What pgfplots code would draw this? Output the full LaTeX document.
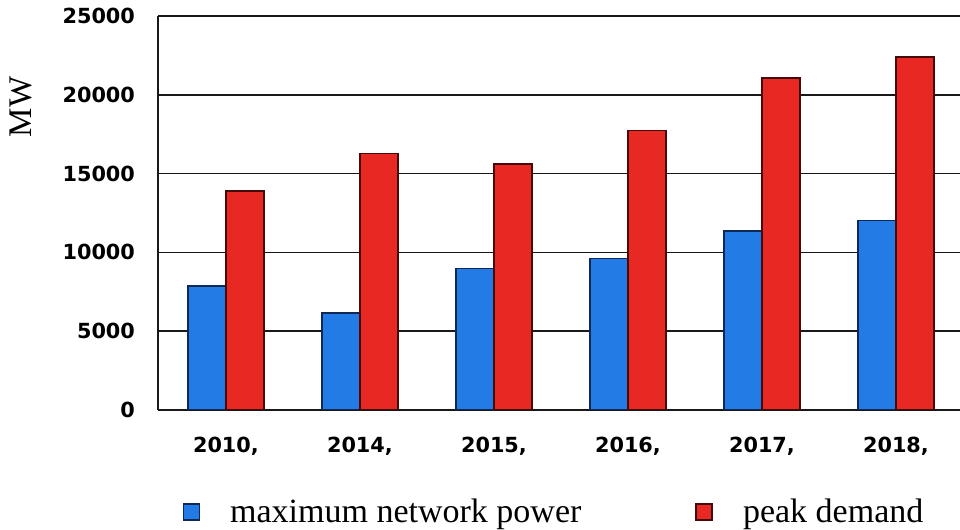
\documentclass[border=0pt]{standalone}
\usepackage{fontspec}
\setmainfont{Liberation Serif}
\newfontfamily\tickfont{DejaVu Sans}
\usepackage{pgfplots}
\pgfplotsset{compat=1.18}
\definecolor{barblue}{RGB}{35,123,229}
\definecolor{barred}{RGB}{232,40,35}
\definecolor{blueedge}{RGB}{15,40,85}
\definecolor{rededge}{RGB}{70,10,10}
\begin{document}
\begin{tikzpicture}
\useasboundingbox (-79pt,-60pt) rectangle (401pt,205pt);
\begin{axis}[
  at={(0,0)}, anchor=south west,
  scale only axis, width=401pt, height=197pt,
  ybar=0pt, bar width=19pt,
  xmin=-0.507, xmax=5.478, ymin=0, ymax=25000,
  xtick={0,1,2,3,4,5},
  xticklabels={{2010,},{2014,},{2015,},{2016,},{2017,},{2018,}},
  ytick={0,5000,10000,15000,20000,25000},
  scaled y ticks=false,
  /pgf/number format/assume math mode=true,
  /pgf/number format/set thousands separator={},
  major tick length=0pt,
  ymajorgrids,
  grid style={black!90, line width=0.8pt},
  axis x line*=bottom, axis y line*=left,
  axis line style={black!90, line width=0.8pt, -},
  ticklabel style={font=\tickfont\bfseries\fontsize{10.4}{12}\selectfont},
  yticklabel style={xshift=-8pt},
  xticklabel style={yshift=-10pt},
  ylabel={MW},
  ylabel style={font=\fontsize{16.5}{18}\selectfont, at={(axis description cs:-0.171,0.769)}, anchor=center},
  legend style={at={(0.495,-0.259)}, anchor=center, draw=none, fill=none,
    font=\fontsize{17}{20}\selectfont,
    /tikz/every even column/.append style={column sep=55pt}},
  legend columns=2,
  legend image code/.code={\draw[#1, ybar=0pt, bar width=0pt] (0pt,-4pt) rectangle (8pt,4pt);\path[draw=none, fill=none] (0pt,0pt) -- (21.5pt,0pt);},
]
\addplot[fill=barblue, draw=blueedge, line width=0.6pt] coordinates {(0,7870) (1,6150) (2,8970) (3,9600) (4,11360) (5,12010)};
\addplot[fill=barred, draw=rededge, line width=0.6pt] coordinates {(0,13900) (1,16260) (2,15610) (3,17720) (4,21070) (5,22400)};
\legend{maximum network power, peak demand}
\end{axis}
\end{tikzpicture}
\end{document}
